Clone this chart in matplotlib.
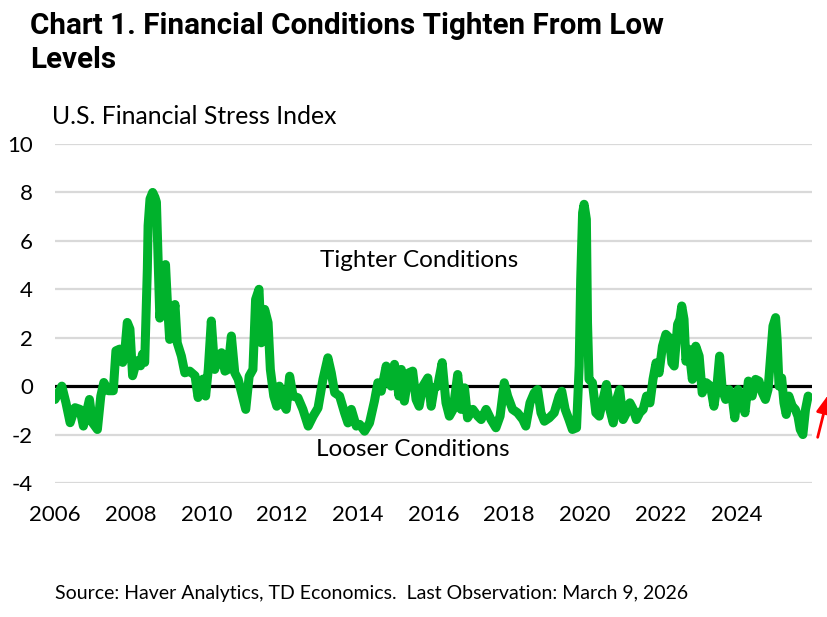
import matplotlib
matplotlib.use("Agg")
from matplotlib import pyplot as plt, font_manager

# U.S. Financial Stress Index
years = [
    2006.00, 2006.18, 2006.29, 2006.40, 2006.53, 2006.66, 2006.75, 2006.91, 2006.99, 2007.12,
    2007.21, 2007.29, 2007.41, 2007.54, 2007.61, 2007.71, 2007.79, 2007.85, 2007.91, 2007.98,
    2008.05, 2008.16, 2008.26, 2008.31, 2008.37, 2008.44, 2008.46, 2008.51, 2008.58, 2008.64,
    2008.68, 2008.72, 2008.77, 2008.92, 2008.97, 2009.03, 2009.17, 2009.23, 2009.34, 2009.43,
    2009.56, 2009.70, 2009.78, 2009.91, 2009.98, 2010.05, 2010.13, 2010.22, 2010.31, 2010.40,
    2010.49, 2010.57, 2010.66, 2010.75, 2010.84, 2010.93, 2011.04, 2011.13, 2011.23, 2011.30,
    2011.39, 2011.45, 2011.54, 2011.63, 2011.69, 2011.78, 2011.86, 2011.93, 2012.02, 2012.11,
    2012.20, 2012.29, 2012.42, 2012.55, 2012.69, 2012.82, 2012.95, 2013.08, 2013.21, 2013.30,
    2013.39, 2013.52, 2013.65, 2013.74, 2013.83, 2013.96, 2014.05, 2014.18, 2014.31, 2014.44,
    2014.53, 2014.62, 2014.75, 2014.88, 2014.97, 2015.09, 2015.15, 2015.23, 2015.35, 2015.45,
    2015.54, 2015.62, 2015.72, 2015.85, 2015.94, 2016.02, 2016.11, 2016.23, 2016.33, 2016.42,
    2016.52, 2016.64, 2016.73, 2016.82, 2016.90, 2017.04, 2017.17, 2017.26, 2017.39, 2017.52,
    2017.65, 2017.76, 2017.87, 2017.96, 2018.09, 2018.22, 2018.36, 2018.44, 2018.55, 2018.66,
    2018.75, 2018.84, 2018.93, 2019.06, 2019.19, 2019.32, 2019.39, 2019.48, 2019.58, 2019.67,
    2019.78, 2019.85, 2019.89, 2019.94, 2019.98, 2020.04, 2020.07, 2020.11, 2020.20, 2020.29,
    2020.38, 2020.48, 2020.57, 2020.66, 2020.75, 2020.84, 2020.92, 2021.01, 2021.10, 2021.19,
    2021.28, 2021.36, 2021.45, 2021.54, 2021.63, 2021.72, 2021.80, 2021.88, 2021.96, 2022.05,
    2022.14, 2022.23, 2022.30, 2022.36, 2022.45, 2022.51, 2022.56, 2022.62, 2022.67, 2022.75,
    2022.84, 2022.93, 2023.02, 2023.10, 2023.21, 2023.32, 2023.41, 2023.49, 2023.56, 2023.63,
    2023.72, 2023.81, 2023.90, 2023.96, 2024.05, 2024.14, 2024.23, 2024.32, 2024.42, 2024.51,
    2024.60, 2024.69, 2024.77, 2024.84, 2024.91, 2024.97, 2025.04, 2025.08, 2025.13, 2025.20,
    2025.26, 2025.32, 2025.39, 2025.48, 2025.56, 2025.63, 2025.69, 2025.76, 2025.83, 2025.90,
]
fsi = [
    -0.55, 0.00, -0.69, -1.51, -0.89, -0.96, -1.65, -0.55, -1.51, -1.79,
    -0.41, 0.15, -0.19, -0.19, 1.46, 1.53, 0.98, 1.53, 2.63, 2.36,
    0.43, 1.05, 0.84, 1.32, 0.98, 4.84, 6.63, 7.73, 8.00, 7.80,
    7.60, 5.53, 2.81, 5.02, 3.44, 1.93, 3.37, 1.79, 1.24, 0.55,
    0.62, 0.43, -0.47, 0.29, -0.41, 0.69, 2.69, 0.69, 1.24, 1.38,
    0.62, 0.69, 2.07, 0.55, 0.28, -0.27, -0.96, 0.41, 0.69, 3.58,
    4.00, 1.79, 3.17, 2.62, 0.69, -0.41, -0.83, 0.00, -0.69, -0.96,
    0.41, -0.41, -0.48, -0.96, -1.65, -1.24, -0.90, 0.28, 1.17, 0.55,
    -0.27, -0.41, -1.10, -1.52, -0.96, -1.65, -1.58, -1.86, -1.52, -0.62,
    0.14, -0.21, 0.83, 0.00, 0.90, -0.41, 0.69, -0.62, 0.55, 0.62,
    -0.55, -0.83, 0.00, 0.34, -0.83, -0.07, 0.00, 0.97, -0.69, -1.24,
    -0.96, 0.48, -0.96, -0.07, -1.31, -0.96, -1.24, -1.38, -0.96, -1.38,
    -1.72, -1.24, 0.14, -0.41, -0.96, -1.10, -1.38, -1.65, -0.69, -0.28,
    -0.14, -1.10, -1.45, -1.31, -1.10, -0.41, -0.21, -0.96, -1.38, -1.79,
    -1.72, 0.83, 4.41, 7.16, 7.51, 6.89, 2.62, 0.28, 0.14, -1.10,
    -1.24, -0.55, 0.07, -0.96, -1.52, -0.55, -0.14, -1.38, -1.10, -0.69,
    -0.96, -1.38, -1.10, -0.96, -0.41, -0.69, 0.28, 0.96, 0.55, 1.65,
    2.14, 2.00, 0.96, 0.83, 2.55, 2.76, 3.31, 2.76, 1.03, 1.52,
    0.28, 1.65, 1.24, -0.28, 0.14, 0.00, -0.83, 0.00, 1.24, -0.14,
    -0.55, -0.14, -0.55, -1.31, -0.14, -0.41, -1.10, 0.21, -0.41, 0.28,
    0.21, -0.28, -0.55, -0.14, 1.24, 2.48, 2.83, 1.93, 0.00, 0.34,
    -0.69, -1.17, -0.41, -0.83, -0.96, -1.24, -1.79, -2.00, -0.96, -0.41,
]
tick_years = list(range(2006, 2025, 2))
y_ticks = list(range(-4, 11, 2))

installed = {f.name for f in font_manager.fontManager.ttflist}
title_font = next((f for f in ['Liberation Sans Narrow', 'Roboto', 'DejaVu Sans'] if f in installed))
body_font = next((f for f in ['Lato', 'Roboto', 'DejaVu Sans'] if f in installed))
plt.rcParams['font.family'] = [body_font, 'DejaVu Sans']
plt.rcParams['axes.unicode_minus'] = False

GREEN = '#00b22c'

fig = plt.figure(figsize=(8.27, 6.17), dpi=100)
ax = fig.add_axes([0.0665, 0.2172, 0.9153, 0.5494])

for y in y_ticks:
    if y != 0:
        ax.axhline(y, color='#d9d9d9', lw=1.6, zorder=1)
ax.axhline(0, color='black', lw=2.3, zorder=2)
ax.plot(years, fsi, color=GREEN, lw=6.5, solid_joinstyle='round', solid_capstyle='round', zorder=3)

ax.set_xlim(2006, 2026)
ax.set_ylim(-4, 10)
ax.set_xticks(tick_years)
ax.set_yticks(y_ticks)
ax.tick_params(axis='both', length=0, labelsize=16, colors='black')
ax.tick_params(axis='y', pad=16)
ax.tick_params(axis='x', pad=16)
for s in ax.spines.values():
    s.set_visible(False)

ax.text(2013.0, 5.19, 'Tighter Conditions', fontsize=17.5, ha='left', va='center')
ax.text(2015.45, -2.62, 'Looser Conditions', fontsize=17.5, ha='center', va='center')

fig.text(30 / 827, 1 - 12 / 617, 'Chart 1. Financial Conditions Tighten From Low\nLevels',
         fontsize=21.3, fontweight='bold', family=[title_font, 'DejaVu Sans'],
         ha='left', va='top', linespacing=1.25)
fig.text(52 / 827, 1 - 116 / 617, 'U.S. Financial Stress Index', fontsize=17.8, ha='left', va='center')
fig.text(55 / 827, 1 - 594 / 617, 'Source: Haver Analytics, TD Economics.  Last Observation: March 9, 2026',
         fontsize=14, ha='left', va='center')

ax.annotate('', xy=(829, 617 - 392), xytext=(817, 617 - 440),
            xycoords='figure pixels', textcoords='figure pixels',
            arrowprops=dict(arrowstyle='-|>,head_length=1.1,head_width=0.45', color='red', lw=2))

fig.savefig('out.png', dpi=100)
